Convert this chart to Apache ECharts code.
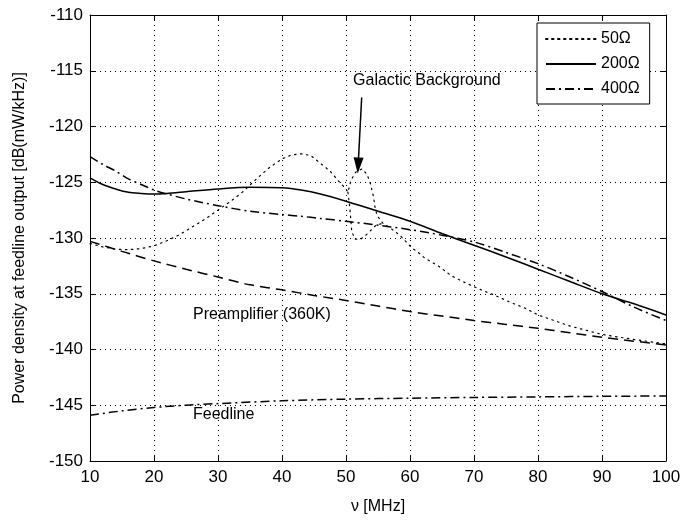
<!DOCTYPE html>
<html>
<head>
<meta charset="utf-8">
<script src="https://cdn.jsdelivr.net/npm/echarts@6/dist/echarts.min.js"></script>
<style>
html,body{margin:0;padding:0;background:#fff;}
#chart{width:694px;height:520px;}
</style>
</head>
<body>
<div id="chart"></div>
<script>
// ---- data ----
const xTicks = [10, 20, 30, 40, 50, 60, 70, 80, 90, 100];
const yTicks = [-150, -145, -140, -135, -130, -125, -120, -115, -110];

const freqR = [10,12,14,16,18,20,22,25,30,35,40,43,46,50,55,60,65,70,75,80,85,90,95,100];
const r200 = [-124.6,-125.2,-125.6,-125.9,-126.0,-126.05,-126.0,-125.85,-125.6,-125.45,-125.5,-125.7,-126.05,-126.7,-127.6,-128.5,-129.6,-130.65,-131.7,-132.8,-133.9,-135.0,-135.9,-136.9];
const r400 = [-122.7,-123.4,-124.0,-124.7,-125.2,-125.7,-126.05,-126.5,-127.1,-127.6,-127.9,-128.05,-128.25,-128.5,-128.85,-129.25,-129.75,-130.35,-131.3,-132.3,-133.5,-134.8,-136.2,-137.4];

const freq50 = [10,12,14,16,18,20,22,24,26,28,30,32,34,36,38,40,41.5,43,44.5,46,47.5,49,50,50.3,50.8,51.5,52.5,53.3,53.8,54.3,54.6,55,55.8,57.4,58.5,59.5,60.3,61.3,62.3,64.4,66.5,68.6,70.9,73.3,75.4,78,80,85,90,95,100];
const r50 = [-130.5,-130.8,-131.0,-131.05,-130.95,-130.7,-130.25,-129.7,-129.0,-128.3,-127.5,-126.7,-125.8,-124.7,-123.7,-122.9,-122.55,-122.45,-122.6,-123.3,-124.0,-125.0,-125.6,-125.9,-124.8,-124.1,-123.8,-124.3,-125.1,-126.3,-127.5,-128.1,-128.7,-129.3,-129.8,-130.4,-130.9,-131.3,-131.8,-132.5,-133.4,-134.0,-134.6,-135.15,-135.7,-136.3,-136.9,-137.9,-138.65,-139.1,-139.5];
// lower branch of the 50 Ohm resonance
const freq50b = [50.3,50.6,50.9,51.4,52.3,53.2,53.9,54.8,55.8];
const r50b = [-125.9,-127.3,-129.4,-130.1,-130.1,-129.7,-129.3,-128.8,-128.7];

const freqP = [10,15,20,25,30,35,40,45,50,55,60,65,70,75,80,85,90,95,100];
const preamp = [-130.3,-131.2,-132.05,-132.8,-133.5,-134.2,-134.65,-135.15,-135.6,-136.1,-136.6,-137.0,-137.4,-137.75,-138.1,-138.5,-138.9,-139.25,-139.6];

const freqF = [10,15,20,25,30,40,50,60,70,80,90,100];
const feedline = [-145.9,-145.5,-145.2,-145.0,-144.85,-144.6,-144.45,-144.37,-144.3,-144.25,-144.2,-144.17];

const seriesNames = ['50Ω', '200Ω', '400Ω'];
const annText = ['Galactic Background', 'Preamplifier (360K)', 'Feedline'];
const annX = [51.1, 26.1, 26.1];
const annY = [-116.05, -137.05, -146.0];
const arrowFrom = [52.45, -117.4];
const arrowTo = [51.9, -123.5];

// ---- chart ----
const FONT = '"Liberation Sans", Arial, Helvetica, sans-serif';
const pairs = (xs, ys) => xs.map((x, i) => [x, ys[i]]);
const chart = echarts.init(document.getElementById('chart'), null, {renderer: 'canvas'});

const gridLine = {show: true, lineStyle: {color: '#000', type: [1, 4], width: 1}};
const baseX = {type: 'value', min: xTicks[0], max: xTicks[xTicks.length - 1], interval: 10};
const baseY = {type: 'value', min: yTicks[0], max: yTicks[yTicks.length - 1], interval: 5};

chart.setOption({
  animation: false,
  backgroundColor: '#fff',
  textStyle: {fontFamily: FONT},
  grid: {left: 90, top: 15, width: 576, height: 454, containLabel: false},
  legend: {
    data: seriesNames,
    orient: 'vertical',
    left: 537, top: 23,
    backgroundColor: '#fff',
    borderColor: '#000', borderWidth: 1, borderRadius: 0,
    padding: [8, 10, 7, 8],
    itemWidth: 50, itemHeight: 14, itemGap: 9, itemTextGap: 8,
    itemStyle: {color: 'rgba(0,0,0,0)', borderWidth: 0, opacity: 0},
    textStyle: {fontSize: 16, color: '#000', fontFamily: FONT}
  },
  xAxis: [
    Object.assign({}, baseX, {
      position: 'bottom',
      name: 'ν [MHz]', nameLocation: 'middle', nameGap: 38,
      nameTextStyle: {fontSize: 16, color: '#000', fontFamily: FONT},
      axisLine: {show: true, onZero: false, lineStyle: {color: '#000', width: 1}},
      axisTick: {show: true, inside: true, length: 6, lineStyle: {color: '#000'}},
      axisLabel: {show: true, fontSize: 17, color: '#000', margin: 8, fontFamily: FONT},
      splitLine: gridLine
    }),
    Object.assign({}, baseX, {
      position: 'top',
      axisLine: {show: true, onZero: false, lineStyle: {color: '#000', width: 1}},
      axisTick: {show: true, inside: true, length: 6, lineStyle: {color: '#000'}},
      axisLabel: {show: false},
      splitLine: {show: false}
    })
  ],
  yAxis: [
    Object.assign({}, baseY, {
      position: 'left',
      name: 'Power density at feedline output [dB(mW/kHz)]', nameLocation: 'middle', nameGap: 62,
      nameTextStyle: {fontSize: 16, color: '#000', fontFamily: FONT},
      axisLine: {show: true, onZero: false, lineStyle: {color: '#000', width: 1}},
      axisTick: {show: true, inside: true, length: 6, lineStyle: {color: '#000'}},
      axisLabel: {show: true, fontSize: 17, color: '#000', margin: 7, fontFamily: FONT},
      splitLine: gridLine
    }),
    Object.assign({}, baseY, {
      position: 'right',
      axisLine: {show: true, onZero: false, lineStyle: {color: '#000', width: 1}},
      axisTick: {show: true, inside: true, length: 6, lineStyle: {color: '#000'}},
      axisLabel: {show: false},
      splitLine: {show: false}
    })
  ],
  series: [
    {
      name: seriesNames[0], type: 'line', data: pairs(freq50, r50),
      showSymbol: false, symbol: 'none', smooth: false,
      lineStyle: {color: '#000', width: 1.2, type: [1.5, 4.5], cap: 'round'}, itemStyle: {color: '#000'}
    },
    {
      name: seriesNames[0], type: 'line', data: pairs(freq50b, r50b),
      showSymbol: false, symbol: 'none', smooth: false,
      lineStyle: {color: '#000', width: 1.2, type: [1.5, 4.5], cap: 'round'}, itemStyle: {color: '#000'}
    },
    {
      name: seriesNames[1], type: 'line', data: pairs(freqR, r200),
      showSymbol: false, symbol: 'none', smooth: 0.3,
      lineStyle: {color: '#000', width: 1.5, type: 'solid'}, itemStyle: {color: '#000'},
      markLine: {
        silent: true, animation: false,
        symbol: ['none', 'triangle'], symbolSize: [10, 16],
        label: {show: false},
        lineStyle: {color: '#000', width: 1.5, type: 'solid'},
        data: [[{coord: arrowFrom}, {coord: arrowTo}]]
      }
    },
    {
      name: seriesNames[2], type: 'line', data: pairs(freqR, r400),
      showSymbol: false, symbol: 'none', smooth: 0.3,
      lineStyle: {color: '#000', width: 1.5, type: [9, 4, 2, 4]}, itemStyle: {color: '#000'}
    },
    {
      name: 'Preamplifier', type: 'line', data: pairs(freqP, preamp),
      showSymbol: false, symbol: 'none', smooth: 0.3,
      lineStyle: {color: '#000', width: 1.5, type: [10, 6]}, itemStyle: {color: '#000'}
    },
    {
      name: 'Feedline', type: 'line', data: pairs(freqF, feedline),
      showSymbol: false, symbol: 'none', smooth: 0.3,
      lineStyle: {color: '#000', width: 1.5, type: [9, 4, 2, 4]}, itemStyle: {color: '#000'}
    }
  ]
});

const graphics = annText.map((t, i) => {
  const p = chart.convertToPixel({xAxisIndex: 0, yAxisIndex: 0}, [annX[i], annY[i]]);
  return {
    type: 'text', left: p[0], top: p[1] - 10, z: 100,
    style: {text: t, fontSize: 16, fill: '#000', fontFamily: FONT, textVerticalAlign: 'top'}
  };
});
chart.setOption({graphic: graphics});
</script>
</body>
</html>
